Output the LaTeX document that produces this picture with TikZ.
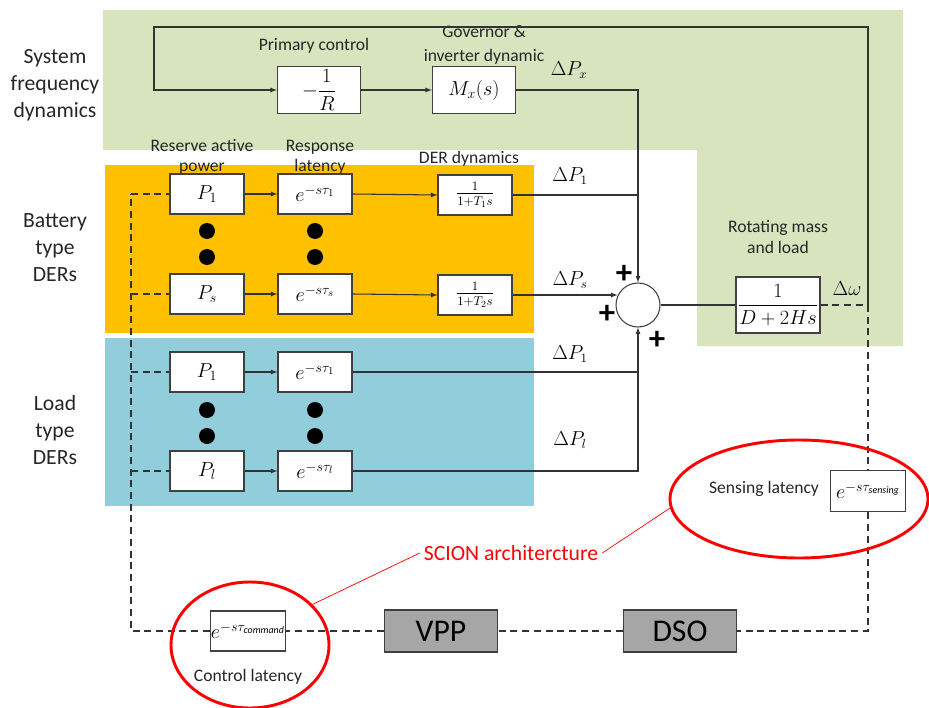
\documentclass[tikz,border=0pt]{standalone}
\usepackage{amsmath}
\usepackage{fontspec}
\setmainfont{Carlito}
\usetikzlibrary{shapes.geometric}

\definecolor{sysgreen}{HTML}{D7E4BD}
\definecolor{batorange}{HTML}{FFC000}
\definecolor{loadblue}{HTML}{92CDDC}
\definecolor{netgray}{HTML}{A6A6A6}
\definecolor{edgegray}{HTML}{404040}

\tikzset{
  blk/.style={draw=edgegray, fill=white, line width=1pt, inner sep=0pt,
    minimum width=2.22cm, minimum height=1.2cm, font=\fontsize{18}{20}\selectfont},
  bigblk/.style={blk, minimum width=2.49cm, minimum height=1.4cm},
  netblk/.style={blk, fill=netgray, minimum width=3.39cm, minimum height=1.26cm,
    font=\fontsize{27}{30}\selectfont},
  sidelbl/.style={align=center, font=\fontsize{18.5}{23}\selectfont, text=black!85},
  toplbl/.style={align=center, font=\fontsize{15}{17}\selectfont, text=black!85},
  dlbl/.style={font=\fontsize{16}{18}\selectfont},
  plus/.style={font=\fontsize{28}{28}\selectfont\bfseries, inner sep=0pt},
  ring/.style={ellipse, draw=red, line width=2.5pt, inner sep=0pt},
  wire/.style={draw=black!80, line width=0.9pt},
  commline/.style={wire, dash pattern=on 6pt off 4pt},
}

\begin{document}
\begin{tikzpicture}[x=0.03cm, y=-0.03cm, >=latex]
    \useasboundingbox (0,0) rectangle (929,708);
    % Background areas
    \fill[sysgreen] (103,10) -- (903,10) -- (903,346) -- (697,346) -- (697,150) -- (103,150) -- cycle;
    \fill[batorange] (105,165) rectangle (534,333);
    \fill[loadblue] (105,338) rectangle (534,506);
    % Side titles
    \node[sidelbl] (sysfd) at (55,85) {System\\frequency\\dynamics};
    \node[sidelbl] (battxt) at (55,248) {Battery\\type\\DERs};
    \node[sidelbl] (loadtxt) at (55,430) {Load\\type\\DERs};
    % Headers
    \node[toplbl] (primtxt) at (314,46) {Primary control};
    \node[toplbl, font=\fontsize{15}{20}\selectfont] (govtxt) at (484,45) {Governor \&\\inverter dynamic};
    \node[toplbl] (restxt) at (202,157) {Reserve active\\power};
    \node[toplbl] (lattxt) at (320,157) {Response\\latency};
    \node[toplbl] (dertxt) at (469,159) {DER dynamics};
    \node[toplbl, font=\fontsize{15}{18}\selectfont] (rottxt) at (778,237) {Rotating mass\\and load};
    % Blocks
    \node[bigblk] (rinv) at (319,90) {$-\dfrac{1}{R}$};
    \node[bigblk] (gov) at (474,90) {$M_x(s)$};
    \node[blk] (bp1) at (207,194) {$P_1$};
    \node[blk] (bd1) at (315,194) {$e^{-s\tau_1}$};
    \node[blk, font=\fontsize{16}{18}\selectfont] (der1) at (475,195) {$\frac{1}{1+T_1 s}$};
    \node[blk] (bps) at (207,294) {$P_s$};
    \node[blk] (bds) at (315,294) {$e^{-s\tau_s}$};
    \node[blk, font=\fontsize{16}{18}\selectfont] (der2) at (475,295) {$\frac{1}{1+T_2 s}$};
    \node[blk] (lp1) at (207,372) {$P_1$};
    \node[blk] (ld1) at (315,372) {$e^{-s\tau_1}$};
    \node[blk] (lpl) at (207,471) {$P_l$};
    \node[blk] (ldl) at (315,471) {$e^{-s\tau_l}$};
    \node[circle, draw=edgegray, fill=white, line width=0.9pt, minimum size=1.32cm] (sum) at (638,305) {};
    \node[blk, minimum width=2.52cm, minimum height=1.68cm, font=\fontsize{16}{18}\selectfont] (rot) at (778,305) {$\dfrac{1}{D+2Hs}$};
    \node[blk, minimum width=2.25cm, minimum height=1.23cm, font=\fontsize{17}{18}\selectfont] (sens) at (868,491) {$e^{-s\tau_{\mathit{sensing}}}$};
    \node[blk, minimum width=2.25cm, minimum height=1.2cm, font=\fontsize{17}{18}\selectfont] (cmd) at (248,631) {$e^{-s\tau_{\mathit{command}}}$};
    \node[netblk] (vpp) at (441,631) {VPP};
    \node[netblk] (dso) at (680,631) {DSO};
    % Dots
    \foreach \dx in {207,315} {
        \fill (\dx,231) circle[radius=0.24cm];
        \fill (\dx,257) circle[radius=0.24cm];
        \fill (\dx,410) circle[radius=0.24cm];
        \fill (\dx,436) circle[radius=0.24cm];
    }
    % Power deviations
    \node[dlbl] (dpx) at (569,70) {$\Delta P_x$};
    \node[dlbl] (dp1) at (570,176) {$\Delta P_1$};
    \node[dlbl] (dps) at (570,280) {$\Delta P_s$};
    \node[dlbl] (dq1) at (570,354) {$\Delta P_1$};
    \node[dlbl] (dql) at (570,440) {$\Delta P_l$};
    \node[font=\fontsize{17}{18}\selectfont] (dw) at (847,289) {$\Delta\omega$};
    \node[plus] (pl1) at (624,274) {+};
    \node[plus] (pl2) at (607,314) {+};
    \node[plus] (pl3) at (657,340) {+};
    % Coordinate
    \coordinate (wtap) at (868,305);
    \coordinate (fbR) at (868,27);
    \coordinate (fbL) at (154,27);
    \coordinate (bus) at (131,194);
    % Frequency loop
    \draw[wire, ->] (wtap) -- (fbR) -- (fbL) |- (rinv.west);
    \draw[wire, ->] (rinv.east) -- (gov.west);
    \draw[wire, ->] (gov.east) -| (sum.north);
    \draw[wire] (rot.west) -- (sum.east);
    \draw[commline] (rot.east) -- (wtap);
    % Battery rows
    \draw[wire, ->] (bp1.east) -- (bd1.west);
    \draw[wire, ->] (bd1.east) -- (der1.west);
    \draw[wire] (der1.east) -- (der1.east -| sum.north);
    \draw[wire, ->] (bps.east) -- (bds.west);
    \draw[wire, ->] (bds.east) -- (der2.west);
    \draw[wire, ->] (der2.east) -- (der2.east -| sum.155);
    % Load rows
    \draw[wire, ->] (lp1.east) -- (ld1.west);
    \draw[wire] (ld1.east) -- (ld1.east -| sum.south);
    \draw[wire, ->] (lpl.east) -- (lpl.east -| ldl.west);
    \draw[wire, ->] (ldl.east) -| (sum.south);
    % Communication path
    \draw[commline] (wtap) -- (sens.north);
    \draw[commline] (sens.south) |- (dso.east);
    \draw[commline] (dso.west) -- (vpp.east);
    \draw[commline] (vpp.west) -- (cmd.east);
    \draw[commline] (cmd.west) -| (bus);
    \draw[commline] (bus) -- (bp1.west);
    \draw[commline] (bus |- bps.west) -- (bps.west);
    \draw[commline] (bus |- lp1.west) -- (lp1.west);
    \draw[commline] (bus |- lpl.west) -- (lpl.west);
    % SCION rings
    \node[toplbl] (senstxt) at (764,489) {Sensing latency};
    \node[toplbl] (ctrltxt) at (248,677) {Control latency};
    \node[ring, minimum width=4.74cm, minimum height=3.78cm] (ctrlring) at (250,645) {};
    \node[ring, minimum width=7.74cm, minimum height=3.54cm] (sensring) at (799,499) {};
    \node[text=red, font=\fontsize{18.5}{20}\selectfont] (scion) at (511,553) {SCION architercture};
    \draw[red, line width=0.6pt] (scion.west) -- (ctrlring.33);
    \draw[red, line width=0.6pt] (scion.east) -- (sensring.184);
\end{tikzpicture}
\end{document}
